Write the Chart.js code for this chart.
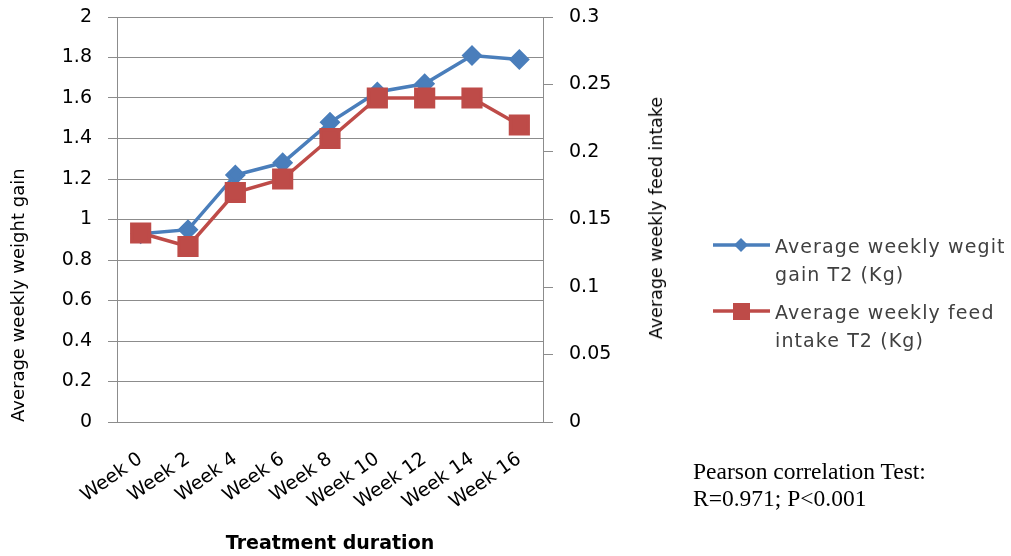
<!DOCTYPE html>
<html>
<head>
<meta charset="utf-8">
<script src="https://cdn.jsdelivr.net/npm/chart.js@4.4.1/dist/chart.umd.min.js"></script>
<style>
  html, body { margin: 0; padding: 0; background: #fff; overflow: hidden; }
  #wrap { position: relative; width: 1011px; height: 556px; overflow: hidden; }
  #chart { position: absolute; left: 0; top: 0; }
  .rtitle {
    position: absolute; left: 656px; top: 218px;
    transform: translate(-50%, -50%) rotate(-90deg);
    font: 17.5px "DejaVu Sans"; color: #000; white-space: nowrap;
  }
  #legend { position: absolute; left: 713px; top: 232px; font: 19px "DejaVu Sans"; letter-spacing: 1.1px; color: #404040; }
  .item { position: absolute; left: 0; white-space: nowrap; }
  .item svg { position: absolute; left: 0; top: 0; }
  .item span { position: absolute; left: 62px; top: 0; line-height: 28px; }
  #pearson { position: absolute; left: 693px; top: 458px; font: 23.5px "Liberation Serif"; line-height: 27px; color: #000; white-space: nowrap; }
</style>
</head>
<body>
<div id="wrap">
  <canvas id="chart" width="1011" height="556"></canvas>
  <div class="rtitle">Average weekly feed intake</div>
  <div id="legend">
    <div class="item" style="top:0">
      <svg width="60" height="28"><line x1="0" y1="13" x2="57" y2="13" stroke="#4A7EBB" stroke-width="3.5"/><polygon points="28,6 35,13 28,20 21,13" fill="#4A7EBB"/></svg>
      <span>Average weekly wegit<br>gain T2 (Kg)</span>
    </div>
    <div class="item" style="top:66px">
      <svg width="60" height="28"><line x1="0" y1="13" x2="57" y2="13" stroke="#BE4B48" stroke-width="3.5"/><rect x="20" y="5" width="17" height="17" fill="#BE4B48"/></svg>
      <span>Average weekly feed<br>intake T2 (Kg)</span>
    </div>
  </div>
  <div id="pearson">Pearson correlation Test:<br>R=0.971; P&lt;0.001</div>
</div>
<script>
const weeks = ['Week 0', 'Week 2', 'Week 4', 'Week 6', 'Week 8', 'Week 10', 'Week 12', 'Week 14', 'Week 16'];
const weightGain = [0.93, 0.95, 1.22, 1.28, 1.48, 1.63, 1.67, 1.81, 1.79];
const feedIntake = [0.14, 0.13, 0.17, 0.18, 0.21, 0.24, 0.24, 0.24, 0.22];
const leftTicks = [0, 0.2, 0.4, 0.6, 0.8, 1, 1.2, 1.4, 1.6, 1.8, 2];
const rightTicks = [0, 0.05, 0.1, 0.15, 0.2, 0.25, 0.3];

const gridGray = '#8c8c8c';
const tickFont = { family: 'DejaVu Sans', size: 19 };

const ctx = document.getElementById('chart').getContext('2d');

new Chart(ctx, {
  type: 'line',
  data: {
    labels: weeks,
    datasets: [
      {
        label: 'Average weekly feed intake T2 (Kg)',
        data: feedIntake,
        yAxisID: 'y2',
        borderColor: '#BE4B48',
        backgroundColor: '#BE4B48',
        borderWidth: 3.5,
        pointStyle: 'rect',
        pointRadius: 12.5,
        pointHoverRadius: 12.5,
        tension: 0,
        order: 0
      },
      {
        label: 'Average weekly wegit gain T2 (Kg)',
        data: weightGain,
        yAxisID: 'y',
        borderColor: '#4A7EBB',
        backgroundColor: '#4A7EBB',
        borderWidth: 3.5,
        pointStyle: 'rectRot',
        pointRadius: 8,
        pointHoverRadius: 8,
        tension: 0,
        order: 1
      }
    ]
  },
  options: {
    responsive: false,
    animation: false,
    layout: { padding: { top: 17, right: 388, left: 0, bottom: 0 } },
    scales: {
      x: {
        offset: true,
        grid: { display: false },
        border: { display: true, color: gridGray },
        ticks: {
          font: tickFont, color: '#000',
          minRotation: 35, maxRotation: 35, padding: 18, autoSkip: false
        },
        title: {
          display: true, text: 'Treatment duration', color: '#000',
          font: { family: 'DejaVu Sans', size: 19, weight: 'bold' },
          padding: { top: 0, bottom: 1 }
        },
        afterFit: (s) => { s.height = 134; }
      },
      y: {
        position: 'left',
        min: 0, max: 2,
        afterBuildTicks: (s) => { s.ticks = leftTicks.map(v => ({ value: v })); },
        ticks: { font: tickFont, color: '#000', padding: 16, callback: (v) => String(v) },
        grid: { color: gridGray, lineWidth: 1, tickLength: 9 },
        border: { color: gridGray },
        title: {
          display: true, text: 'Average weekly weight gain', align: 'start', color: '#000',
          font: { family: 'DejaVu Sans', size: 18 },
          padding: { top: 9, bottom: 0 }
        },
        afterFit: (s) => { s.width = 117; s.paddingTop = 0; s.paddingBottom = 0; }
      },
      y2: {
        position: 'right',
        min: 0, max: 0.3,
        afterBuildTicks: (s) => { s.ticks = rightTicks.map(v => ({ value: v })); },
        ticks: { font: tickFont, color: '#000', padding: 16, callback: (v) => String(v) },
        grid: { drawOnChartArea: false, color: gridGray, tickLength: 10 },
        border: { color: gridGray },
        afterFit: (s) => { s.width = 80; s.paddingTop = 0; s.paddingBottom = 0; }
      }
    },
    plugins: {
      legend: { display: false },
      tooltip: { enabled: false }
    }
  }
});
</script>
</body>
</html>
